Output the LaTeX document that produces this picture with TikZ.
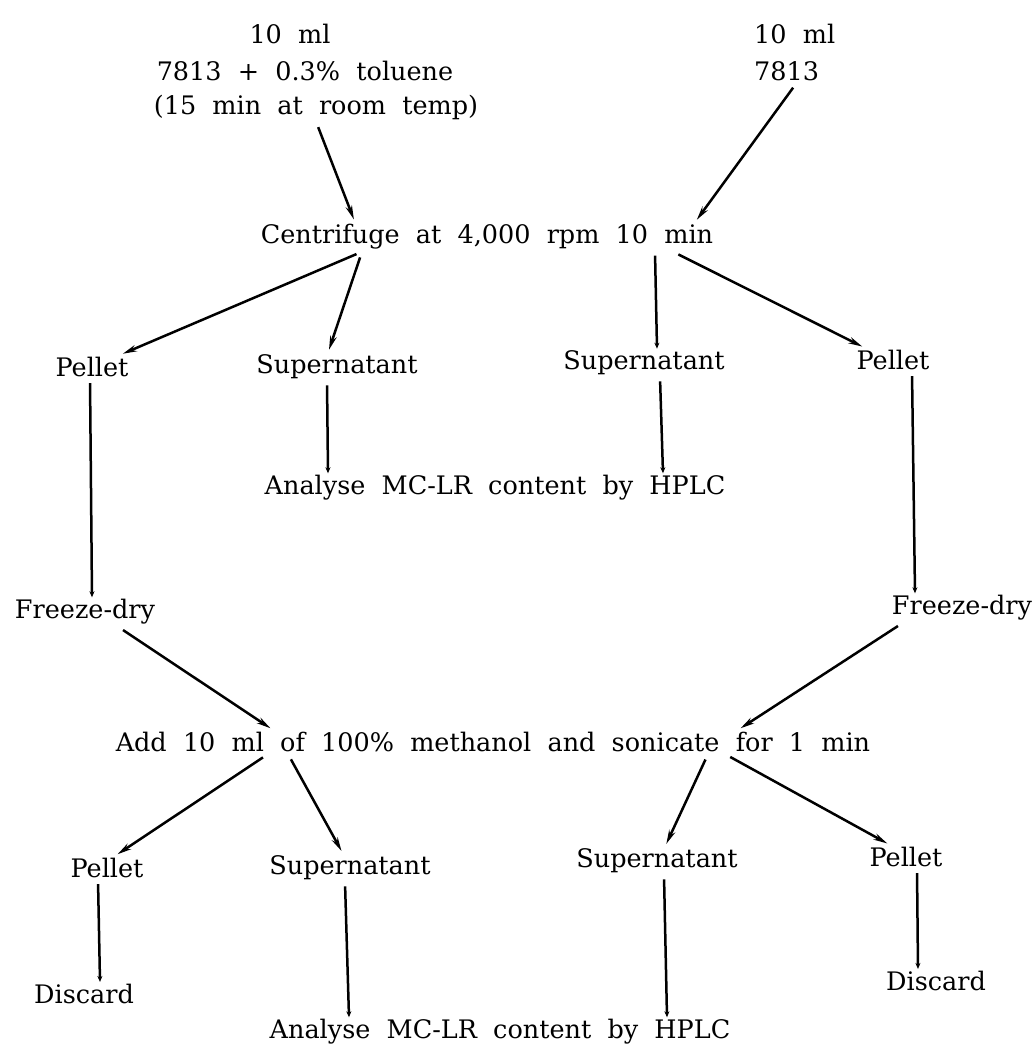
\documentclass[tikz,border=0pt]{standalone}
\usepackage{fontspec}
\setmainfont{DejaVu Serif}[WordSpace=2.0]
\usetikzlibrary{arrows.meta}

\begin{document}
\begin{tikzpicture}[x=1pt, y=-1pt,
        every node/.style={font=\fontsize{25.5}{30}\selectfont, inner sep=2pt},
        flow/.style={line width=2.5pt, -{Stealth[length=14pt,width=6.5pt]}, shorten <=6pt, shorten >=3pt},
        drop/.style={line width=2.5pt, -{Stealth[length=6pt,width=5pt]}, shorten <=4pt, shorten >=0pt}]
        \useasboundingbox (0,0) rectangle (1036,1047);

        \node (srcAvol)  at (290,34)  {10 ml};
        \node (srcAmix)  at (305,71)  {7813 + 0.3\% toluene};
        \node (srcAtime) at (316,107) {(15 min at room temp)};
        \node[anchor=west] (srcBvol)    at (752,34) {10 ml};
        \node[anchor=west] (srcBstrain) at (752,71) {7813};

        \node (spin) at (487,237) {Centrifuge at 4,000 rpm 10 min};

        \node (pelA) at (92,367)  {Pellet};
        \node (supA) at (337,367) {Supernatant};
        \node (supB) at (644,363) {Supernatant};
        \node (pelB) at (893,360) {Pellet};

        \node (hplcA) at (495,488) {Analyse MC-LR content by HPLC};

        \node (dryA) at (85,612)  {Freeze-dry};
        \node (dryB) at (962,608) {Freeze-dry};

        \node (meth) at (493,742) {Add 10 ml of 100\% methanol and sonicate for 1 min};

        \node (pelC) at (107,868) {Pellet};
        \node (supC) at (350,868) {Supernatant};
        \node (supD) at (657,861) {Supernatant};
        \node (pelD) at (906,857) {Pellet};

        \node (binC)  at (84,994)   {Discard};
        \node (binD)  at (936,981)  {Discard};
        \node (hplcB) at (500,1032) {Analyse MC-LR content by HPLC};

        \draw[flow] (srcAtime.south) -- ([xshift=-132]spin.north);
        \draw[flow] ([xshift=10]srcBstrain.south) -- ([xshift=208]spin.north);

        \draw[flow] ([xshift=-125]spin.south) -- ([xshift=28]pelA.north);
        \draw[flow] ([xshift=-125]spin.south) -- ([xshift=-9]supA.north);
        \draw[drop] ([xshift=168]spin.south) -- ([xshift=13]supB.north);
        \draw[flow] ([xshift=186]spin.south) -- ([xshift=-28]pelB.north);

        \draw[drop] ([xshift=-10]supA.south) -- ([xshift=-167]hplcA.north);
        \draw[drop] ([xshift=16]supB.south) -- ([xshift=168]hplcA.north);
        \draw[drop] ([xshift=-2]pelA.south) -- ([xshift=7]dryA.north);
        \draw[drop] ([xshift=19]pelB.south) -- ([xshift=-47]dryB.north);

        \draw[flow] ([xshift=33]dryA.south) -- ([xshift=-220]meth.north);
        \draw[flow] ([xshift=-59]dryB.south) -- ([xshift=245]meth.north);

        \draw[flow] ([xshift=-225]meth.south) -- ([xshift=8]pelC.north);
        \draw[flow] ([xshift=-205]meth.south) -- ([xshift=-7]supC.north);
        \draw[flow] ([xshift=215]meth.south) -- ([xshift=8]supD.north);
        \draw[flow] ([xshift=232]meth.south) -- ([xshift=-16]pelD.north);

        \draw[drop] ([xshift=-9]pelC.south) -- ([xshift=16]binC.north);
        \draw[drop] ([xshift=-5]supC.south) -- ([xshift=-151]hplcB.north);
        \draw[drop] ([xshift=7]supD.south) -- ([xshift=167]hplcB.north);
        \draw[drop] ([xshift=11]pelD.south) -- ([xshift=-18]binD.north);
\end{tikzpicture}
\end{document}
